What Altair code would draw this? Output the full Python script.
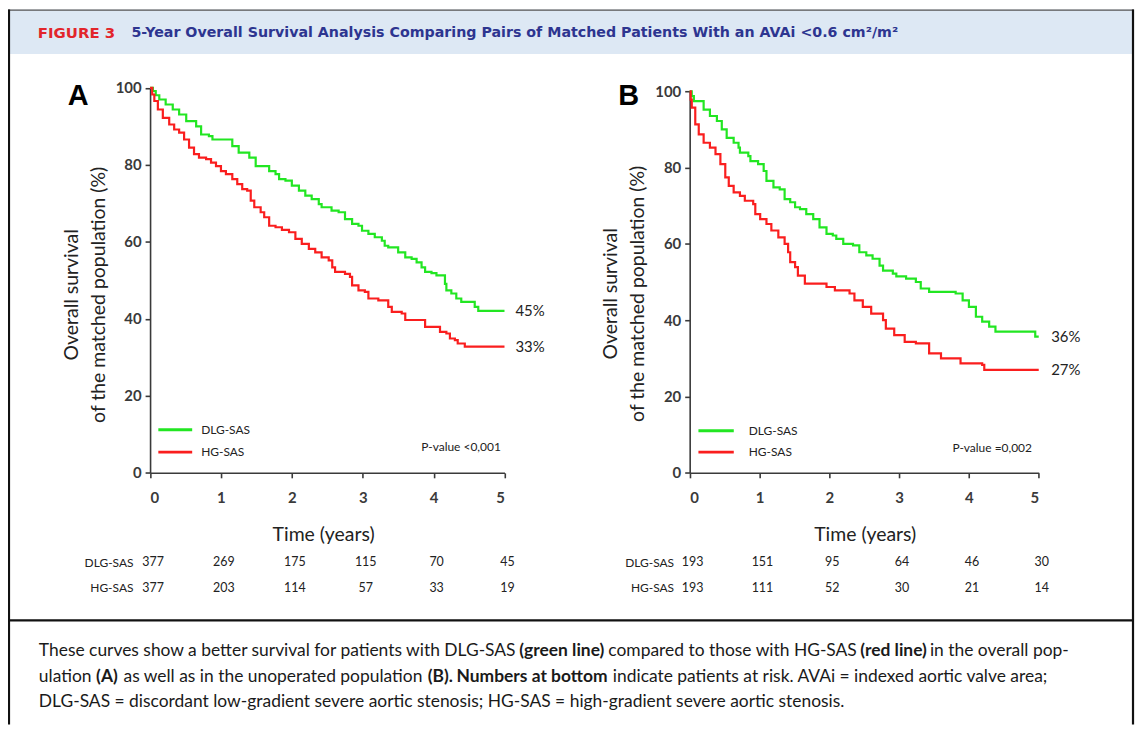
import altair as alt
import pandas as pd

# ---------------- data ----------------
years = [0, 1, 2, 3, 4, 5]
y_ticks = [0, 20, 40, 60, 80, 100]
groups = ["DLG-SAS", "HG-SAS"]

# Panel A (overall population)
a_dlg_t = [0, 0.04, 0.08, 0.13, 0.22, 0.32, 0.41, 0.51, 0.65, 0.72, 0.83, 0.88, 1.16, 1.25, 1.40, 1.49, 1.68,
           1.77, 1.82, 1.91, 2.00, 2.10, 2.19, 2.28, 2.38, 2.42, 2.56, 2.66, 2.75, 2.85, 2.94, 2.99, 3.08,
           3.17, 3.27, 3.31, 3.36, 3.50, 3.60, 3.69, 3.76, 3.83, 3.88, 3.97, 4.04, 4.16, 4.18, 4.25, 4.32,
           4.39, 4.58, 4.63, 5.00]
a_dlg_s = [100, 99.2, 98.1, 97.0, 95.7, 94.4, 93.1, 91.4, 90.0, 87.9, 87.5, 86.6, 84.9, 83.2, 81.9, 79.7, 78.4,
           77.6, 76.3, 75.9, 74.6, 73.3, 72.0, 71.1, 69.8, 69.0, 68.1, 67.7, 65.9, 64.7, 64.2, 62.9, 62.1,
           61.2, 60.3, 59.0, 58.6, 57.3, 56.0, 55.6, 54.7, 53.4, 52.2, 51.9, 51.3, 49.1, 47.4, 46.6, 45.3,
           44.4, 43.1, 42.1, 42.1]
a_hg_t = [0, 0.03, 0.06, 0.11, 0.18, 0.27, 0.34, 0.41, 0.48, 0.55, 0.62, 0.69, 0.79, 0.86, 0.93, 1.00, 1.07,
          1.16, 1.23, 1.30, 1.37, 1.42, 1.47, 1.56, 1.61, 1.68, 1.77, 1.86, 1.96, 2.05, 2.14, 2.24, 2.33,
          2.42, 2.52, 2.57, 2.61, 2.75, 2.82, 2.85, 2.94, 3.03, 3.08, 3.22, 3.36, 3.41, 3.55, 3.60, 3.88,
          4.09, 4.18, 4.23, 4.30, 4.34, 4.44, 5.00]
a_hg_s = [100, 98.3, 96.6, 94.4, 92.2, 90.5, 89.2, 88.4, 86.6, 84.5, 82.8, 81.9, 81.5, 80.6, 79.7, 78.4, 77.6,
          76.3, 75.0, 73.7, 73.3, 70.7, 69.0, 67.7, 66.4, 64.2, 63.8, 63.1, 62.5, 60.8, 59.5, 58.2, 57.3,
          56.0, 55.2, 53.4, 52.2, 51.7, 50.9, 48.7, 47.4, 47.0, 45.3, 44.8, 43.1, 41.8, 41.4, 39.7, 37.9,
          36.6, 36.2, 34.9, 34.5, 33.6, 32.8, 32.8]

# Panel B (unoperated population)
b_dlg_t = [0, 0.03, 0.06, 0.20, 0.29, 0.39, 0.46, 0.53, 0.63, 0.70, 0.72, 0.84, 0.87, 0.98, 1.06, 1.10, 1.20,
           1.29, 1.36, 1.44, 1.51, 1.58, 1.67, 1.77, 1.86, 1.96, 2.05, 2.10, 2.20, 2.34, 2.43, 2.53, 2.62,
           2.72, 2.77, 2.91, 2.96, 3.10, 3.24, 3.31, 3.43, 3.81, 3.91, 4.00, 4.10, 4.19, 4.29, 4.38, 4.95, 5.00]
b_dlg_s = [100, 98.7, 97.4, 95.2, 93.5, 92.2, 90.0, 87.8, 86.5, 85.2, 83.9, 83.0, 81.7, 80.9, 79.1, 76.5, 74.8,
           74.3, 71.7, 70.9, 69.6, 69.1, 67.8, 66.5, 64.3, 62.6, 62.2, 61.3, 60.0, 59.6, 57.8, 57.0, 56.1,
           54.3, 53.0, 52.2, 51.5, 50.9, 50.0, 48.3, 47.4, 47.0, 45.2, 43.5, 40.9, 39.6, 38.3, 37.0, 35.7, 35.7]
b_hg_t = [0, 0.015, 0.03, 0.08, 0.13, 0.20, 0.29, 0.37, 0.44, 0.51, 0.56, 0.63, 0.72, 0.79, 0.91, 0.94, 1.01,
          1.10, 1.17, 1.27, 1.36, 1.41, 1.44, 1.51, 1.55, 1.65, 1.96, 2.08, 2.29, 2.36, 2.48, 2.60, 2.77,
          2.81, 2.93, 3.08, 3.24, 3.43, 3.60, 3.88, 4.19, 4.22, 5.00]
b_hg_s = [100, 97.8, 95.7, 91.3, 88.7, 86.5, 85.2, 83.5, 80.9, 77.4, 75.2, 73.5, 72.6, 71.3, 70.4, 67.8, 66.5,
          65.2, 63.5, 61.7, 60.0, 57.8, 55.2, 53.9, 51.7, 49.6, 48.7, 47.8, 47.0, 45.2, 43.5, 41.7, 40.0,
          37.8, 36.1, 34.3, 33.9, 31.3, 30.0, 28.7, 28.3, 27.0, 27.0]

# numbers at risk
risk_a_dlg = [377, 269, 175, 115, 70, 45]
risk_a_hg = [377, 203, 114, 57, 33, 19]
risk_b_dlg = [193, 151, 95, 64, 46, 30]
risk_b_hg = [193, 111, 52, 30, 21, 14]

end_labels_a = ["45%", "33%"]
end_labels_b = ["36%", "27%"]
p_value_a = "P-value <0,001"
p_value_b = "P-value =0,002"

fig_label = "FIGURE 3"
fig_title = "5-Year Overall Survival Analysis Comparing Pairs of Matched Patients With an AVAi <0.6 cm\u00b2/m\u00b2"
y_title = ["Overall survival", "of the matched population (%)"]
x_title = "Time (years)"

# ---------------- styling ----------------
W, H = 1132, 718
GREEN = "#22e622"
RED = "#fa1e1e"
AXIS_C = "#3a3a3a"
TEXT_C = "#222222"
FONT = "Lato"
one = pd.DataFrame({"d": [0]})


def P(v):  # page pixel -> canvas pixel
    return v - 8


def curves_df(t1, s1, t2, s2):
    return pd.DataFrame({
        "t": t1 + t2,
        "s": s1 + s2,
        "g": [groups[0]] * len(t1) + [groups[1]] * len(t2),
    })


def risk_df(r1, r2):
    return pd.DataFrame({
        "t": years + years,
        "n": r1 + r2,
        "row": [groups[0]] * len(years) + [groups[1]] * len(years),
    })


def xs(rng):
    return alt.Scale(domain=[0, 5], range=rng, nice=False, zero=False)


def ys(rng):
    return alt.Scale(domain=[0, 100], range=rng, nice=False, zero=False)


color_enc = alt.Color("g:N", scale=alt.Scale(domain=groups, range=[GREEN, RED]), legend=None)


def panel(df_curves, df_risk, ends, xr, yr, ytitle_x, ytitle_y, xtitle_x, row_axis_x, end_dx):
    curves = alt.Chart(df_curves).mark_line(interpolate="step-after", strokeWidth=2.2).encode(
        x=alt.X("t:Q", scale=xs(xr), axis=alt.Axis(
            orient="bottom", offset=yr[0] - H, values=years, format="d",
            title=x_title, titleX=xtitle_x, titleY=62, titleBaseline="middle",
            titleAlign="center")),
        y=alt.Y("s:Q", scale=ys(yr), axis=alt.Axis(
            orient="left", offset=-xr[0], values=y_ticks, format="d",
            title=y_title, titleX=ytitle_x, titleY=ytitle_y, titleBaseline="middle",
            titleAlign="center", titleAngle=270, titleLineHeight=27.5)),
        color=color_enc,
        detail="g:N",
    )
    risk = alt.Chart(df_risk).mark_text(
        align="center", baseline="middle", dx=3, fontSize=12.5, font=FONT, color=TEXT_C
    ).encode(
        x=alt.X("t:Q", scale=xs(xr), axis=None),
        y=alt.Y("row:N", scale=alt.Scale(type="point", domain=groups, range=[P(563.3), P(588.5)], padding=0),
                axis=alt.Axis(orient="left", offset=-row_axis_x, domain=False, ticks=False, labelPadding=2,
                              labelFontSize=12, labelFontWeight="normal", labelColor=TEXT_C, title=None)),
        text="n:Q",
    )
    end_df = pd.DataFrame({
        "t": [df_curves[df_curves.g == groups[0]].t.iloc[-1], df_curves[df_curves.g == groups[1]].t.iloc[-1]],
        "s": [df_curves[df_curves.g == groups[0]].s.iloc[-1], df_curves[df_curves.g == groups[1]].s.iloc[-1]],
        "lab": ends,
    })
    endl = alt.Chart(end_df).mark_text(
        align="left", baseline="middle", dx=end_dx, fontSize=15, font=FONT, color=TEXT_C
    ).encode(
        x=alt.X("t:Q", scale=xs(xr), axis=None),
        y=alt.Y("s:Q", scale=ys(yr), axis=None),
        text="lab:N",
    )
    return [curves, risk, endl]


def txt(s, x, y, size, color=TEXT_C, weight="normal", font=FONT, align="left", baseline="middle"):
    return alt.Chart(one).mark_text(
        text=s, fontSize=size, color=color, fontWeight=weight, font=font, align=align, baseline=baseline
    ).encode(x=alt.value(x), y=alt.value(y))


def hrule(x1, x2, y, color, w):
    return alt.Chart(one).mark_rule(color=color, strokeWidth=w).encode(
        x=alt.value(x1), x2=alt.value(x2), y=alt.value(y))


def vrule(x, y1, y2, color, w):
    return alt.Chart(one).mark_rule(color=color, strokeWidth=w).encode(
        x=alt.value(x), y=alt.value(y1), y2=alt.value(y2))


# ---------------- frame & header ----------------
layers = []
layers.append(alt.Chart(one).mark_rect(color="#dde8f4").encode(
    x=alt.value(1), x2=alt.value(W - 2), y=alt.value(0), y2=alt.value(P(52.5))))
layers.append(hrule(0, W - 1, 0.5, "#555555", 1.2))
layers.append(vrule(1, 0, H, "#111111", 2.2))
layers.append(vrule(W - 2, 0, H, "#111111", 2.2))
layers.append(hrule(0, W - 1, P(621.5), "#111111", 2.2))
layers.append(txt(fig_label, P(38), P(31.5), 15, color="#e2252b", weight="bold", font="DejaVu Sans"))
layers.append(txt(fig_title, P(132), P(31.5), 14.3, color="#2d3590", weight="bold", font="DejaVu Sans"))

# ---------------- panels ----------------
dfA = curves_df(a_dlg_t, a_dlg_s, a_hg_t, a_hg_s)
dfB = curves_df(b_dlg_t, b_dlg_s, b_hg_t, b_hg_s)
layers += panel(dfA, risk_df(risk_a_dlg, risk_a_hg), end_labels_a,
                [P(150.7), P(506.7)], [P(473.3), P(86.7)],
                ytitle_x=-79, ytitle_y=P(294), xtitle_x=P(324.5), row_axis_x=P(135.5), end_dx=11)
layers += panel(dfB, risk_df(risk_b_dlg, risk_b_hg), end_labels_b,
                [P(692.7), P(1043.3)], [P(473.3), P(90)],
                ytitle_x=-80, ytitle_y=P(293), xtitle_x=P(868.5), row_axis_x=P(678.5), end_dx=12.5)

# panel letters
layers.append(txt("A", P(68), P(103.5), 29, color="#000000", weight="bold", font="Liberation Sans",
                  baseline="alphabetic"))
layers.append(txt("B", P(621), P(103.5), 29, color="#000000", weight="bold", font="Liberation Sans",
                  baseline="alphabetic"))

# in-plot legends and p-values
for (lx1, lx2, tx, gy, ry) in [(159, 193, 202, 430, 452.5), (701.5, 737, 752, 431, 452.5)]:
    layers.append(hrule(P(lx1), P(lx2), P(gy), GREEN, 3))
    layers.append(hrule(P(lx1), P(lx2), P(ry), RED, 3))
    layers.append(txt(groups[0], P(tx), P(gy), 12))
    layers.append(txt(groups[1], P(tx), P(ry), 12))
layers.append(txt(p_value_a, P(503), P(447), 12, align="right"))
layers.append(txt(p_value_b, P(1036.5), P(448), 12, align="right"))

# ---------------- caption ----------------
cap = [
    ("These curves show a better survival for patients with DLG-SAS", 39, 652, "normal"),
    ("(green line)", 521.5, 652, "bold"),
    ("compared to those with HG-SAS", 611, 652, "normal"),
    ("(red line)", 864, 652, "bold"),
    ("in the overall pop-", 934, 652, "normal"),
    ("ulation", 39, 678, "normal"),
    ("(A)", 96.5, 678, "bold"),
    ("as well as in the unoperated population", 124, 678, "normal"),
    ("(B).", 429.5, 678, "bold"),
    ("Numbers at bottom", 458.5, 678, "bold"),
    ("indicate patients at risk. AVAi = indexed aortic valve area;", 615.5, 678, "normal"),
    ("DLG-SAS = discordant low-gradient severe aortic stenosis; HG-SAS = high-gradient severe aortic stenosis.",
     39, 704, "normal"),
]
for s, x, y, wt in cap:
    layers.append(txt(s, P(x), P(y), 17.5, color="#1a1a1a", weight=wt))

chart = alt.layer(*layers).resolve_scale(
    x="independent", y="independent"
).properties(
    width=W, height=H, autosize=alt.AutoSizeParams(type="none"), padding=0
).configure_view(stroke=None).configure_axis(
    grid=False,
    labelFont=FONT, labelFontSize=15, labelFontWeight="bold", labelColor=AXIS_C,
    titleFont=FONT, titleFontSize=19.5, titleFontWeight="normal", titleColor=TEXT_C,
    domainColor=AXIS_C, domainWidth=1.6, tickColor=AXIS_C, tickWidth=1.6, tickSize=5,
    labelPadding=4,
).configure_axisBottom(labelPadding=13)

chart.save("out.html", embed_options={"renderer": "svg", "actions": False})
